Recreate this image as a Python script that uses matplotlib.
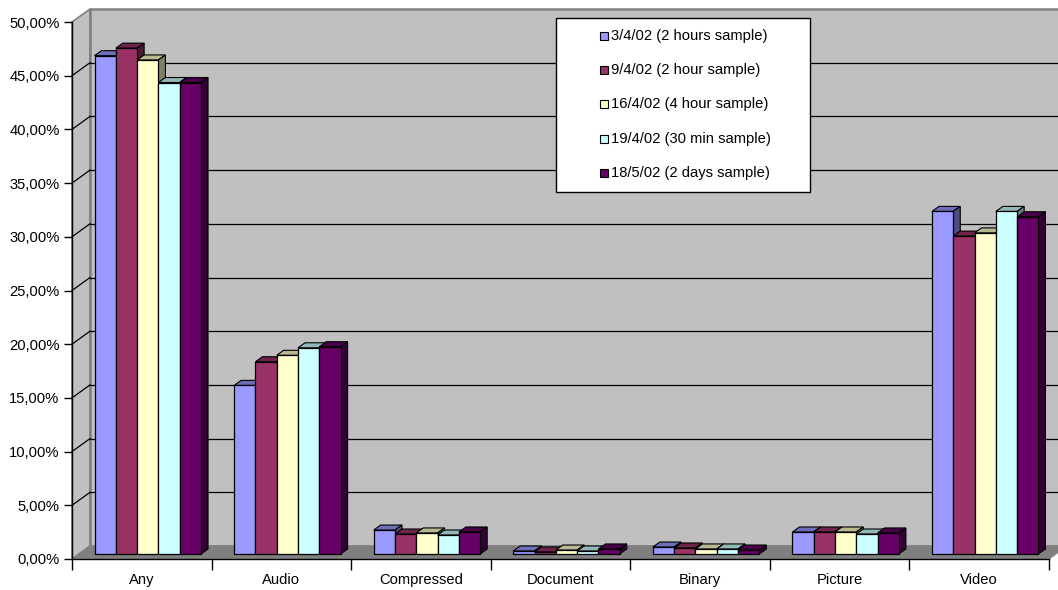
import matplotlib.pyplot as plt
from matplotlib.patches import Polygon, Rectangle
import numpy as np

plt.rcParams["font.family"] = ["Liberation Sans", "DejaVu Sans"]

# file type categories
categories = ["Any", "Audio", "Compressed", "Document", "Binary", "Picture", "Video"]

# share of traffic per file type (%) for each sampling session
labels = [
    "3/4/02 (2 hours sample)",
    "9/4/02 (2 hour sample)",
    "16/4/02 (4 hour sample)",
    "19/4/02 (30 min sample)",
    "18/5/02 (2 days sample)",
]
s_0304 = [46.4, 15.7, 2.23, 0.28, 0.65, 2.05, 31.9]
s_0904 = [47.1, 17.9, 1.86, 0.19, 0.56, 2.05, 29.6]
s_1604 = [46.0, 18.5, 1.96, 0.37, 0.47, 2.05, 29.9]
s_1904 = [43.9, 19.2, 1.77, 0.28, 0.47, 1.86, 31.9]
s_1805 = [43.9, 19.3, 2.05, 0.47, 0.37, 1.96, 31.4]
series = [s_0304, s_0904, s_1604, s_1904, s_1805]

colors = ["#9999FF", "#993366", "#FFFFCC", "#CCFFFF", "#660066"]

y_ticks = np.arange(0, 51, 5)

W, H = 1058, 590
fig = plt.figure(figsize=(W / 100, H / 100), dpi=100)
ax = fig.add_axes([72 / W, (H - 559) / H, 977 / W, 537 / H])
ax.set_xlim(0, len(categories))
ax.set_ylim(0, 50)
ax.patch.set_visible(False)

px_x = 977 / len(categories)
px_y = 537 / 50
# depth offsets: back wall, plane of the bars, depth of one bar
wall_dx, wall_dy = 18 / px_x, 13 / px_y
plane_dx, plane_dy = 6 / px_x, 5 / px_y
bar_dx, bar_dy = 7 / px_x, 5 / px_y
bar_w = 21.3 / px_x

n = len(categories)
wall_kw = dict(clip_on=False, zorder=1)
# side wall, back wall and floor
ax.add_patch(Polygon([(0, 0), (wall_dx, wall_dy), (wall_dx, 50 + wall_dy), (0, 50)],
                     fc="#C0C0C0", ec="#808080", lw=1.2, **wall_kw))
ax.add_patch(Polygon([(wall_dx, wall_dy), (n + wall_dx, wall_dy), (n + wall_dx, 50 + wall_dy),
                      (wall_dx, 50 + wall_dy)], fc="#C0C0C0", ec="#808080", lw=1.8, **wall_kw))
ax.add_patch(Polygon([(0, 0), (n, 0), (n + wall_dx, wall_dy), (wall_dx, wall_dy)],
                     fc="#808080", ec="#808080", lw=0.8, **wall_kw))

# gridlines on the back wall and their continuation on the side wall
for v in y_ticks[1:-1]:
    ax.plot([wall_dx, n + wall_dx], [v + wall_dy, v + wall_dy], color="black", lw=0.9,
            clip_on=False, zorder=2)
    ax.plot([0, wall_dx], [v, v + wall_dy], color="black", lw=0.9, clip_on=False, zorder=2)

# bars with top and side faces
for k, (vals, col) in enumerate(zip(series, colors)):
    base = np.array(plt.matplotlib.colors.to_rgb(col))
    top_c = base * 0.72
    side_c = base * 0.5
    xs = np.arange(n) + 0.5 + plane_dx + (k - 2) * bar_w
    z = 10 + k
    ax.bar(xs, vals, width=bar_w, bottom=plane_dy, color=col, edgecolor="black", lw=0.9, zorder=z + 0.5)
    for x, v in zip(xs, vals):
        l, r = x - bar_w / 2, x + bar_w / 2
        t = plane_dy + v
        ax.add_patch(Polygon([(l, t), (r, t), (r + bar_dx, t + bar_dy), (l + bar_dx, t + bar_dy)],
                             fc=top_c, ec="black", lw=0.8, zorder=z, clip_on=False))
        ax.add_patch(Polygon([(r, plane_dy), (r + bar_dx, plane_dy + bar_dy), (r + bar_dx, t + bar_dy), (r, t)],
                             fc=side_c, ec="black", lw=0.8, zorder=z, clip_on=False))

# axes
for side in ["top", "right"]:
    ax.spines[side].set_visible(False)
for side in ["left", "bottom"]:
    ax.spines[side].set_color("black")
    ax.spines[side].set_linewidth(1.0)
    ax.spines[side].set_zorder(30)

ax.set_yticks(y_ticks)
ax.set_yticklabels([f"{v:.2f}".replace(".", ",") + "%" for v in y_ticks])
ax.tick_params(axis="y", length=6, width=1.0, pad=3, labelsize=10.6)
ax.set_xticks(np.arange(n + 1))
ax.set_xticklabels([])
ax.tick_params(axis="x", which="major", length=8, width=1.0)
ax.set_xticks(np.arange(n) + 0.5, minor=True)
ax.set_xticklabels(categories, minor=True)
ax.tick_params(axis="x", which="minor", length=0, pad=10, labelsize=10.6)

# legend box
def fx(px):
    return px / W


def fy(py):
    return 1 - py / H


fig.add_artist(Rectangle((fx(556), fy(192)), 254 / W, 174 / H, transform=fig.transFigure,
                         fc="white", ec="black", lw=1.0, zorder=40))
for k, (lab, col) in enumerate(zip(labels, colors)):
    yc = 36 + k * 34.2
    fig.add_artist(Rectangle((fx(600), fy(yc + 4)), 8 / W, 8 / H, transform=fig.transFigure,
                             fc=col, ec="black", lw=0.8, zorder=41))
    fig.text(fx(611), fy(yc), lab, fontsize=10.6, va="center", ha="left", zorder=42)

fig.savefig("out.png", dpi=100)
